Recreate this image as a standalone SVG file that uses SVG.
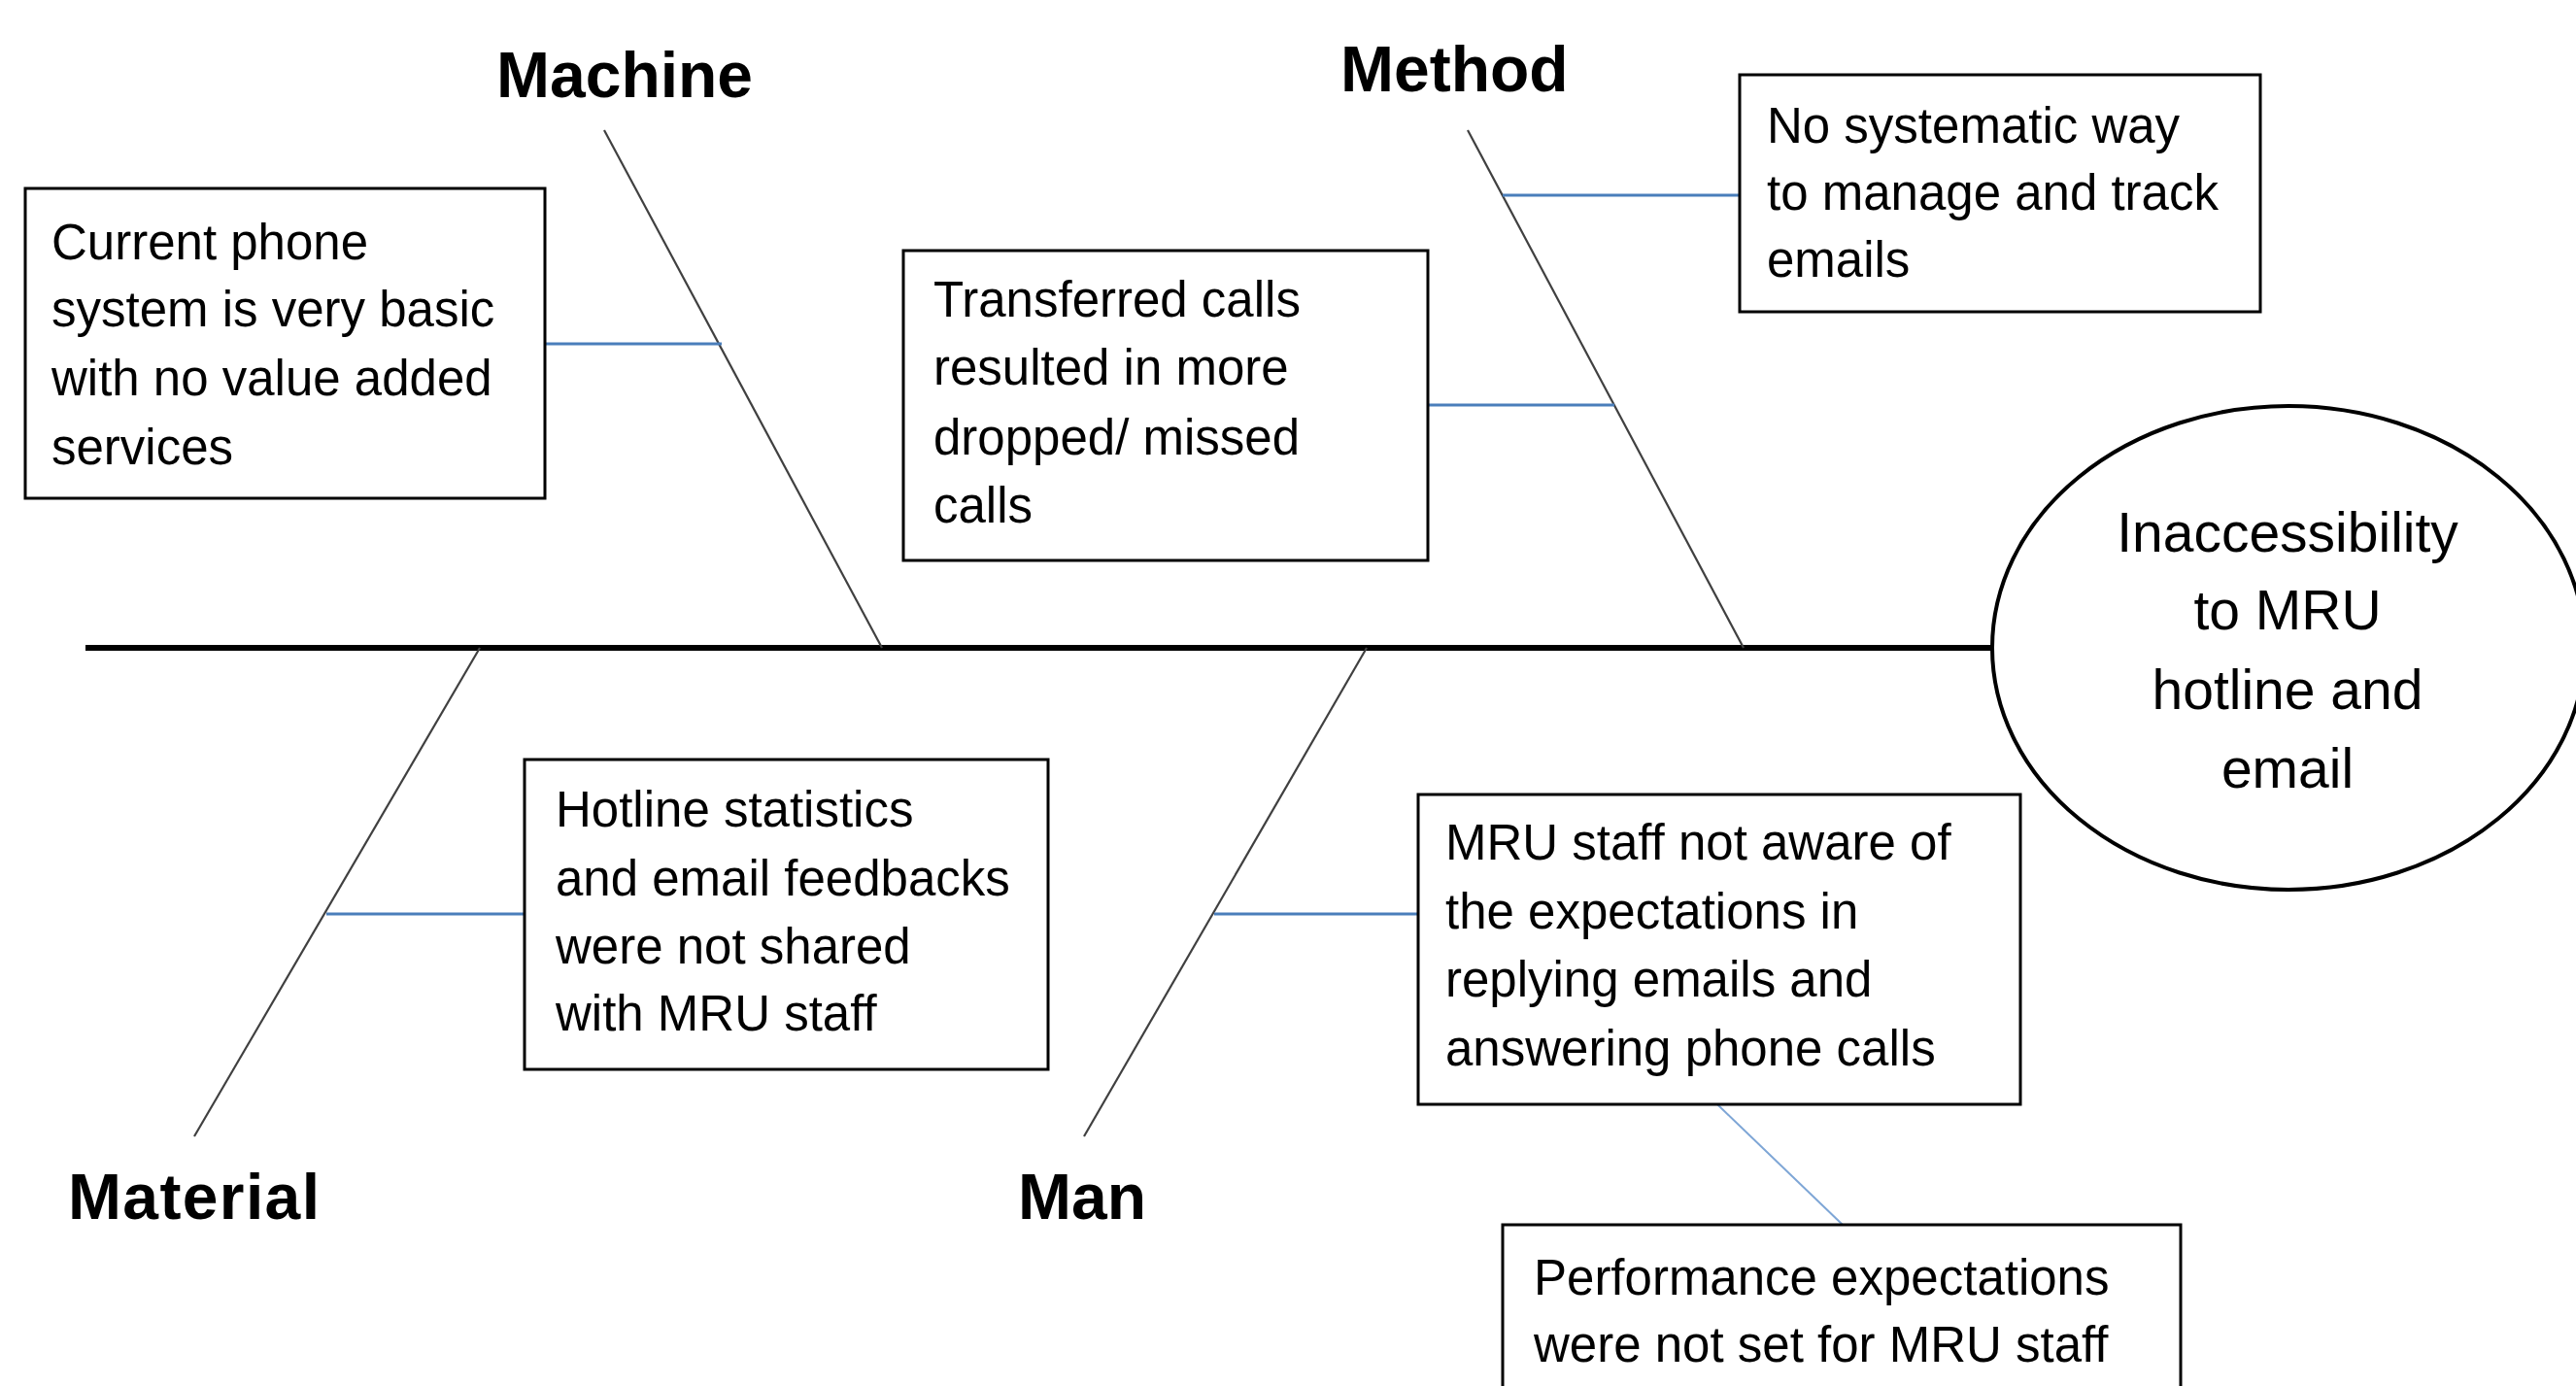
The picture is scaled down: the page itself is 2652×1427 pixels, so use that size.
<svg xmlns="http://www.w3.org/2000/svg" width="2652" height="1427" viewBox="0 0 2652 1427">
<style>
.bg{fill:#ffffff}
.box{fill:#ffffff;stroke:#000000;stroke-width:3}
.t{font-family:"Liberation Sans",Arial,sans-serif;font-size:51px;fill:#000000}
.et{font-family:"Liberation Sans",Arial,sans-serif;font-size:57px;fill:#000000;text-anchor:middle}
.lbl{font-family:"Liberation Sans",Arial,sans-serif;font-size:66px;font-weight:bold;fill:#000000}
.spine{stroke:#000000;stroke-width:6;fill:none}
.rib{stroke:#404040;stroke-width:2.2;fill:none}
.conn{stroke:#4a7ebb;stroke-width:3;fill:none}
.conn2{stroke:#7ea6d6;stroke-width:2;fill:none}
</style>
<rect class="bg" x="0" y="0" width="2652" height="1427"/>

<g id="connectors">
  <line class="spine" x1="88" y1="667" x2="2052" y2="667"/>
  <line class="rib" x1="622" y1="134" x2="908" y2="667"/>
  <line class="rib" x1="1511" y1="134" x2="1795" y2="667"/>
  <line class="rib" x1="494" y1="667" x2="200" y2="1170"/>
  <line class="rib" x1="1407" y1="667" x2="1116" y2="1170"/>
  <line class="conn" x1="561" y1="354" x2="743" y2="354"/>
  <line class="conn" x1="1547" y1="201" x2="1791" y2="201"/>
  <line class="conn" x1="1470" y1="417" x2="1662" y2="417"/>
  <line class="conn" x1="336" y1="941" x2="540" y2="941"/>
  <line class="conn" x1="1250" y1="941" x2="1460" y2="941"/>
  <line class="conn2" x1="1768" y1="1137" x2="1897" y2="1261"/>
</g>

<g id="effect">
  <ellipse cx="2356" cy="667" rx="305" ry="249" fill="#ffffff" stroke="#000000" stroke-width="4"/>
  <text class="et" x="2355" y="568">Inaccessibility</text>
  <text class="et" x="2355" y="648">to MRU</text>
  <text class="et" x="2355" y="730">hotline and</text>
  <text class="et" x="2355" y="811">email</text>
</g>

<g id="label-machine"><text class="lbl" x="511" y="100">Machine</text></g>
<g id="label-method"><text class="lbl" x="1380" y="94">Method</text></g>
<g id="label-material"><text class="lbl" x="70" y="1255" textLength="259" lengthAdjust="spacing">Material</text></g>
<g id="label-man"><text class="lbl" x="1048" y="1255">Man</text></g>

<g id="cause-phone-system">
  <rect class="box" x="26" y="194" width="535" height="319"/>
  <text class="t" x="53" y="267">Current phone</text>
  <text class="t" x="53" y="336">system is very basic</text>
  <text class="t" x="53" y="407">with no value added</text>
  <text class="t" x="53" y="478">services</text>
</g>

<g id="cause-transferred-calls">
  <rect class="box" x="930" y="258" width="540" height="319"/>
  <text class="t" x="961" y="326">Transferred calls</text>
  <text class="t" x="961" y="396">resulted in more</text>
  <text class="t" x="961" y="468">dropped/ missed</text>
  <text class="t" x="961" y="538">calls</text>
</g>

<g id="cause-no-system">
  <rect class="box" x="1791" y="77" width="536" height="244"/>
  <text class="t" x="1819" y="147">No systematic way</text>
  <text class="t" x="1819" y="216">to manage and track</text>
  <text class="t" x="1819" y="285">emails</text>
</g>

<g id="cause-statistics">
  <rect class="box" x="540" y="782" width="539" height="319"/>
  <text class="t" x="572" y="851">Hotline statistics</text>
  <text class="t" x="572" y="922">and email feedbacks</text>
  <text class="t" x="572" y="992">were not shared</text>
  <text class="t" x="572" y="1061">with MRU staff</text>
</g>

<g id="cause-not-aware">
  <rect class="box" x="1460" y="818" width="620" height="319"/>
  <text class="t" x="1488" y="885">MRU staff not aware of</text>
  <text class="t" x="1488" y="956">the expectations in</text>
  <text class="t" x="1488" y="1026">replying emails and</text>
  <text class="t" x="1488" y="1097">answering phone calls</text>
</g>

<g id="cause-performance">
  <rect class="box" x="1547" y="1261" width="698" height="200"/>
  <text class="t" x="1579" y="1333">Performance expectations</text>
  <text class="t" x="1579" y="1402">were not set for MRU staff</text>
</g>
</svg>
